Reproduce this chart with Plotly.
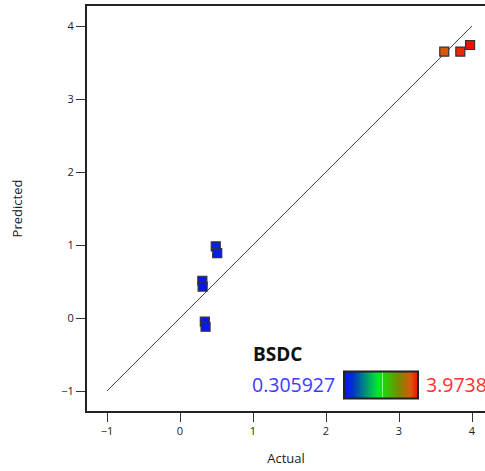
import plotly.graph_objects as go

actual = [0.49, 0.51, 0.306, 0.31, 0.34, 0.35, 3.62, 3.84, 3.9738]
predicted = [0.98, 0.89, 0.51, 0.43, -0.05, -0.12, 3.65, 3.65, 3.74]
line_x = [-1, 4]
line_y = [-1, 4]
cmin, cmax = 0.305927, 3.9738
x_ticks = [-1, 0, 1, 2, 3, 4]
y_ticks = [-1, 0, 1, 2, 3, 4]

font = "Open Sans, Noto Sans, sans-serif"
cscale = [[0, "rgb(10,20,245)"], [0.12, "rgb(0,50,200)"], [0.45, "rgb(0,230,50)"],
          [0.51, "rgb(20,225,20)"], [0.52, "rgb(140,255,140)"], [0.53, "rgb(30,215,10)"],
          [0.75, "rgb(125,135,0)"], [0.9, "rgb(215,90,10)"], [1, "rgb(245,15,0)"]]

fig = go.Figure()
fig.add_trace(go.Scatter(x=line_x, y=line_y, mode="lines",
                         line=dict(color="#444", width=1), hoverinfo="skip", showlegend=False))
fig.add_trace(go.Scatter(
    x=actual, y=predicted, mode="markers", showlegend=False,
    marker=dict(symbol="square", size=9, color=actual, colorscale=cscale,
                cmin=cmin, cmax=cmax,
                line=dict(color="#333", width=1.2),
                showscale=True,
                colorbar=dict(orientation="h", lenmode="pixels", len=74,
                              thicknessmode="pixels", thickness=27,
                              x=0.738, xanchor="center", y=0.0605, yanchor="middle",
                              xpad=0, ypad=0, showticklabels=False, ticks="",
                              outlinewidth=2, outlinecolor="#222"))))

fig.add_annotation(x=0.412, xref="paper", xanchor="left", y=0.14, yref="paper", yanchor="middle",
                   text="<b>BSDC</b>", showarrow=False, font=dict(family=font, size=19, color="#111"))
fig.add_annotation(x=0.629, xref="paper", xanchor="right", y=0.0655, yref="paper", yanchor="middle",
                   text=f"{cmin}", showarrow=False, font=dict(family=font, size=19.5, color="#3c3cff"))
fig.add_annotation(x=0.847, xref="paper", xanchor="left", y=0.0655, yref="paper", yanchor="middle",
                   text=f"{cmax}", showarrow=False, font=dict(family=font, size=19.5, color="#ff3030"))

fig.update_layout(
    width=485, height=471,
    margin=dict(l=87, r=0, t=6, b=60),
    paper_bgcolor="white", plot_bgcolor="white",
    font=dict(family=font, size=11, color="#222"),
    xaxis=dict(range=[-1.274, 4.178], tickvals=x_ticks, ticks="outside", ticklen=9,
               tickcolor="#333", showline=True, linecolor="#222", linewidth=2, mirror=True,
               showgrid=False, zeroline=False,
               title=dict(text="Actual", font=dict(size=13), standoff=17)),
    yaxis=dict(range=[-1.274, 4.274], tickvals=y_ticks, ticks="outside", ticklen=9,
               tickcolor="#333", showline=True, linecolor="#222", linewidth=2,
               showgrid=False, zeroline=False,
               title=dict(text="Predicted", font=dict(size=13), standoff=36)),
)
fig.write_html("out.html", config={"displayModeBar": False},
               post_script="document.body.style.margin='0';document.body.style.overflow='hidden';")
